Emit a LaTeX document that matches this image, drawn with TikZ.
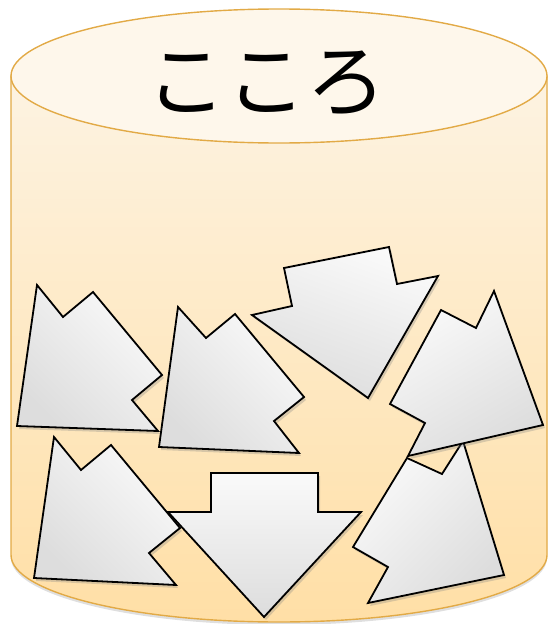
\documentclass[tikz,border=0pt]{standalone}
\usepackage{fontspec}
\newfontfamily\jpfont{Noto Sans CJK JP}
\usetikzlibrary{shadows}
\definecolor{kokoroline}{RGB}{226,170,70}
\definecolor{kokorotop}{RGB}{254,247,235}
\definecolor{kokorohi}{RGB}{253,243,226}
\definecolor{kokorolo}{RGB}{255,223,166}
\begin{document}
\begin{tikzpicture}
  [x=1pt,y=-1pt,
   piece/.style={draw=black,line width=1.8pt,top color=gray!4,bottom color=gray!27,
     drop shadow={shadow xshift=2pt,shadow yshift=-3pt,opacity=.3}},
   jar/.style={draw=kokoroline,line width=1.4pt}]
  \useasboundingbox (0,0) rectangle (548,624);

  % el cilindro con la tapa
  \path[jar,top color=kokorohi,bottom color=kokorolo,
        drop shadow={shadow xshift=0pt,shadow yshift=-3pt,opacity=.25}]
    (11,76) -- (11,555) .. controls (11,592) and (131,622) .. (279,622)
    .. controls (427,622) and (547,592) .. (547,555) -- (547,76) -- cycle;
  \filldraw[jar,fill=kokorotop] (279,76) ellipse [x radius=268, y radius=67];
  \node[inner sep=0pt] (kokoro) at (266,83) {\jpfont\fontsize{80}{90}\selectfont こころ};

  \draw[piece,shading angle=-45] (37,285) -- (63,317) -- (93,292) -- (162,375) -- (132,400) -- (158,431) -- (17,426) -- cycle;
  \draw[piece,shading angle=-45] (178,307) -- (206,338) -- (235,314) -- (304,397) -- (274,421) -- (299,453) -- (159,447) -- cycle;
  \draw[piece,shading angle=-20] (284,268) -- (292,306) -- (252,315) -- (368,398) -- (438,276) -- (397,284) -- (389,247) -- cycle;
  \draw[piece,shading angle=45] (463,441) -- (442,474) -- (407,458) -- (353,547) -- (388,567) -- (368,603) -- (504,575) -- cycle;
  \draw[piece,shading angle=30] (494,291) -- (476,328) -- (441,310) -- (390,404) -- (425,423) -- (408,456) -- (543,425) -- cycle;
  \draw[piece,shading angle=-45] (54,437) -- (81,470) -- (111,445) -- (180,528) -- (149,553) -- (176,585) -- (34,578) -- cycle;
  \draw[piece] (211,473) -- (318,473) -- (318,512) -- (361,512) -- (264,617) -- (168,512) -- (211,512) -- cycle;
\end{tikzpicture}
\end{document}
